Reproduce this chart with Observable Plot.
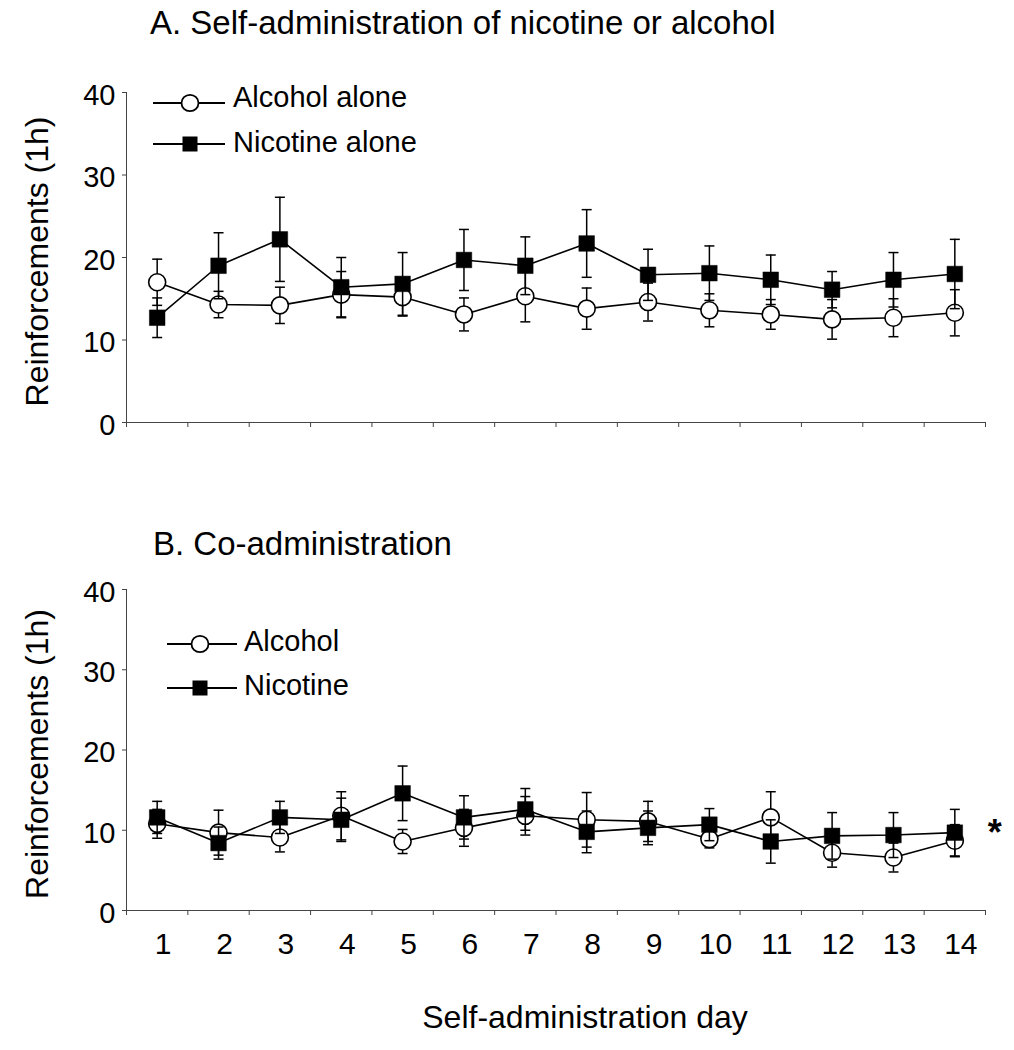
<!DOCTYPE html>
<html>
<head>
<meta charset="utf-8">
<script src="https://cdn.jsdelivr.net/npm/d3@7"></script>
<script src="https://cdn.jsdelivr.net/npm/@observablehq/plot@0.6"></script>
<style>
  body { margin: 0; background: #fff; }
  #chart { position: relative; width: 1014px; height: 1050px; background: #fff;
           font-family: "Liberation Sans", Arial, sans-serif; }
  #chart > svg { position: absolute; left: 0; }
</style>
</head>
<body>
<div id="chart"></div>
<script>
// ---------- data ----------
const days = [1, 2, 3, 4, 5, 6, 7, 8, 9, 10, 11, 12, 13, 14];
const yTicks = [0, 10, 20, 30, 40];

// Panel A: self-administration of nicotine or alcohol alone
const alcoholAloneMean = [17.0, 14.3, 14.2, 15.5, 15.2, 13.1, 15.3, 13.8, 14.6, 13.6, 13.1, 12.5, 12.7, 13.3];
const alcoholAloneSE   = [2.8, 1.6, 2.2, 2.8, 2.3, 2.0, 3.1, 2.5, 2.3, 2.0, 1.8, 2.4, 2.3, 2.8];
const nicotineAloneMean = [12.7, 19.0, 22.2, 16.4, 16.8, 19.7, 19.0, 21.7, 17.9, 18.1, 17.3, 16.1, 17.3, 18.0];
const nicotineAloneSE   = [2.4, 4.0, 5.1, 3.6, 3.8, 3.7, 3.5, 4.1, 3.1, 3.3, 3.0, 2.2, 3.3, 4.2];

// Panel B: co-administration
const alcoholCoMean = [10.8, 9.7, 9.1, 11.8, 8.6, 10.3, 11.8, 11.3, 11.1, 8.9, 11.6, 7.2, 6.6, 8.7];
const alcoholCoSE   = [1.8, 2.8, 1.8, 3.0, 1.5, 2.3, 2.4, 3.4, 2.5, 1.1, 3.2, 1.8, 1.8, 2.0];
const nicotineCoMean = [11.6, 8.4, 11.6, 11.3, 14.6, 11.6, 12.6, 9.8, 10.3, 10.7, 8.6, 9.3, 9.4, 9.7];
const nicotineCoSE   = [2.0, 2.0, 2.0, 2.7, 3.4, 2.7, 2.6, 2.6, 2.1, 2.0, 2.7, 2.9, 2.8, 2.9];

const titleA = "A. Self-administration of nicotine or alcohol";
const titleB = "B. Co-administration";
const legendA = ["Alcohol alone", "Nicotine alone"];
const legendB = ["Alcohol", "Nicotine"];
const yLabel = "Reinforcements (1h)";
const xLabel = "Self-administration day";
const sigMark = "*";

// ---------- helpers ----------
const font = "'Liberation Sans', Arial, sans-serif";
const axisColor = "#444";
const dayEdges = days.map(d => d - 0.5).concat([days[days.length - 1] + 0.5]);

function rows(means, ses) {
  return days.map((d, i) => ({day: d, mean: means[i], lo: means[i] - ses[i], hi: means[i] + ses[i]}));
}
const capSymbol = { draw(ctx) { ctx.moveTo(-5, 0); ctx.lineTo(5, 0); } };

function seriesMarks(data, isSquare) {
  return [
    Plot.ruleX(data, {x: "day", y1: "lo", y2: "hi", stroke: "black", strokeWidth: 1.5}),
    Plot.dot(data, {x: "day", y: "hi", symbol: capSymbol, stroke: "black", strokeWidth: 1.5}),
    Plot.dot(data, {x: "day", y: "lo", symbol: capSymbol, stroke: "black", strokeWidth: 1.5}),
    Plot.line(data, {x: "day", y: "mean", stroke: "black", strokeWidth: 1.6}),
    isSquare
      ? Plot.dot(data, {x: "day", y: "mean", symbol: "square", r: 8.8, fill: "black", stroke: "black", strokeWidth: 0.5})
      : Plot.dot(data, {x: "day", y: "mean", symbol: "circle", r: 8.5, fill: "white", stroke: "black", strokeWidth: 1.6})
  ];
}

function panel({height, marginTop, marginBottom, alc, nic, showDays, star}) {
  const marks = [
    Plot.ruleX([dayEdges[0]], {stroke: axisColor, strokeWidth: 1}),
    Plot.ruleY([0], {stroke: axisColor, strokeWidth: 1}),
    Plot.axisY({ticks: yTicks, tickSize: 4, stroke: axisColor, label: null, tickFormat: () => ""}),
    Plot.axisY({ticks: yTicks, tickSize: 0, tickPadding: 11, dy: 3, fontSize: 29, fill: "black", label: null}),
    Plot.axisX({ticks: dayEdges, tickSize: 5, stroke: axisColor, tickFormat: () => "", label: null}),
    Plot.text([yLabel], {frameAnchor: "left", textAnchor: "middle", text: d => d, rotate: -90, dx: -89, dy: 4, fontSize: 32, fill: "black"}),
    ...seriesMarks(alc, false),
    ...seriesMarks(nic, true)
  ];
  if (showDays) {
    marks.push(Plot.axisX({ticks: days, tickSize: 0, tickPadding: 22, dx: 6, fontSize: 30, fill: "black", label: null}));
    marks.push(Plot.text([xLabel], {frameAnchor: "bottom", text: d => d, dx: 29, dy: 117, fontSize: 32, fill: "black"}));
  }
  if (star) {
    const last = nic[nic.length - 1];
    marks.push(Plot.text([last], {x: "day", y: "mean", text: () => sigMark, dx: 40, dy: 1, fontSize: 36, fontWeight: "bold", fill: "black"}));
  }
  return Plot.plot({
    width: 1014, height, marginTop, marginBottom, marginLeft: 126, marginRight: 29,
    x: {type: "linear", domain: [dayEdges[0], dayEdges[dayEdges.length - 1]]},
    y: {type: "linear", domain: [0, 40]},
    style: {fontFamily: font, fontSize: "29px", color: "black", background: "transparent", overflow: "visible"},
    marks
  });
}

const chart = document.getElementById("chart");

const svgA = panel({height: 480, marginTop: 92, marginBottom: 58,
  alc: rows(alcoholAloneMean, alcoholAloneSE), nic: rows(nicotineAloneMean, nicotineAloneSE),
  showDays: false, star: false});
svgA.style.top = "0px";
chart.appendChild(svgA);

const svgB = panel({height: 570, marginTop: 109, marginBottom: 140,
  alc: rows(alcoholCoMean, alcoholCoSE), nic: rows(nicotineCoMean, nicotineCoSE),
  showDays: true, star: true});
svgB.style.top = "480px";
chart.appendChild(svgB);

// ---------- titles and legends overlay ----------
const ov = d3.select(chart).append("svg")
  .attr("width", 1014).attr("height", 1050)
  .style("position", "absolute").style("left", "0px").style("top", "0px")
  .style("pointer-events", "none")
  .attr("font-family", font);

ov.append("text").attr("x", 150).attr("y", 34).attr("font-size", 33).text(titleA);
ov.append("text").attr("x", 153).attr("y", 555).attr("font-size", 33).text(titleB);

function legend(x0, x1, xm, xt, ys, baselines, labels) {
  labels.forEach((lab, i) => {
    const g = ov.append("g");
    g.append("line").attr("x1", x0).attr("x2", x1).attr("y1", ys[i]).attr("y2", ys[i])
      .attr("stroke", "black").attr("stroke-width", 2.2);
    if (i === 0) {
      g.append("ellipse").attr("cx", xm).attr("cy", ys[i]).attr("rx", 8.5).attr("ry", 8.2)
        .attr("fill", "white").attr("stroke", "black").attr("stroke-width", 1.8);
    } else {
      g.append("rect").attr("x", xm - 7.5).attr("y", ys[i] - 7.5).attr("width", 15).attr("height", 15)
        .attr("fill", "black");
    }
    g.append("text").attr("x", xt).attr("y", baselines[i]).attr("font-size", 29).text(lab);
  });
}
legend(153, 225, 190, 233, [103, 144], [107, 152], legendA);
legend(167, 237, 200, 244, [644, 688], [651, 695], legendB);
</script>
</body>
</html>
